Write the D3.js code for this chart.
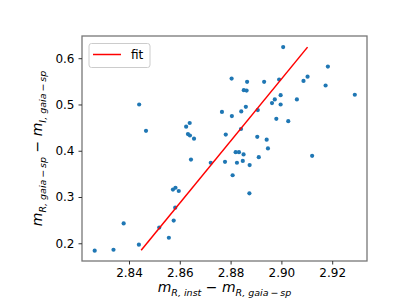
<!DOCTYPE html>
<html>
<head>
<meta charset="utf-8">
<script src="https://cdn.jsdelivr.net/npm/d3@7"></script>
<style>
  body { margin: 0; background: #fff; }
  text { font-family: "DejaVu Sans", sans-serif; }
</style>
</head>
<body>
<div id="container"></div>
<script>
// colour index difference, instrumental vs gaia synthetic photometry
var xVals = [2.8265, 2.8339, 2.8379, 2.8439, 2.8440, 2.8467, 2.8519, 2.8557, 2.8576, 2.8582,
  2.8573, 2.8583, 2.8596, 2.8639, 2.8625, 2.8632, 2.8640, 2.8656, 2.8644, 2.8722,
  2.8766, 2.8781, 2.8778, 2.8804, 2.8805, 2.8808, 2.8820, 2.8833, 2.8825, 2.8851,
  2.8848, 2.8841, 2.8842, 2.8852, 2.8863, 2.8860, 2.8865, 2.8875, 2.8874, 2.8905,
  2.8907, 2.8911, 2.8932, 2.8942, 2.8947, 2.8963, 2.8974, 2.8980, 2.8991, 2.8997,
  2.8997, 2.9007, 2.9027, 2.9061, 2.9087, 2.9103, 2.9121, 2.9174, 2.9183, 2.9289];
var yVals = [0.184, 0.186, 0.243, 0.197, 0.500, 0.443, 0.234, 0.212, 0.249, 0.277,
  0.316, 0.320, 0.313, 0.460, 0.452, 0.436, 0.433, 0.426, 0.381, 0.374,
  0.484, 0.435, 0.376, 0.556, 0.475, 0.347, 0.397, 0.397, 0.374, 0.392,
  0.378, 0.447, 0.485, 0.531, 0.530, 0.495, 0.549, 0.369, 0.308, 0.430,
  0.488, 0.386, 0.549, 0.424, 0.405, 0.503, 0.511, 0.469, 0.554, 0.520,
  0.500, 0.624, 0.464, 0.511, 0.551, 0.560, 0.389, 0.541, 0.582, 0.521];

// fitted line end points
var fitX = [2.8448, 2.9103];
var fitY = [0.185, 0.624];

var xTicks = [2.84, 2.86, 2.88, 2.90, 2.92];
var yTicks = [0.2, 0.3, 0.4, 0.5, 0.6];

let width = 409;
let height = 307;
var margin = {left: 82, right: 42, top: 36, bottom: 46};

var svg = d3.select("#container").append("svg")
  .attr("width", width).attr("height", height);

var x = d3.scaleLinear().domain([2.8215, 2.9337]).range([margin.left, width - margin.right]);
var y = d3.scaleLinear().domain([0.1617, 0.648]).range([height - margin.bottom, margin.top]);

var points = xVals.map(function(d, i) { return {x: d, y: yVals[i]}; });

svg.append("g")
  .selectAll("circle")
  .data(points).enter().append("circle")
  .attr("cx", function(d) { return x(d.x); })
  .attr("cy", function(d) { return y(d.y); })
  .attr("r", 2.1)
  .attr("fill", "#1f77b4");

svg.append("path")
  .datum(fitX.map(function(d, i) { return [d, fitY[i]]; }))
  .attr("d", d3.line().x(function(d) { return x(d[0]); }).y(function(d) { return y(d[1]); }))
  .attr("stroke", "red")
  .attr("stroke-width", 1.5)
  .attr("fill", "none");

// frame
svg.append("rect")
  .attr("x", margin.left).attr("y", margin.top)
  .attr("width", width - margin.left - margin.right)
  .attr("height", height - margin.top - margin.bottom)
  .attr("fill", "none").attr("stroke", "#777").attr("stroke-width", 1.3);

var xAxis = svg.append("g")
  .attr("transform", "translate(0," + (height - margin.bottom) + ")")
  .call(d3.axisBottom(x).tickValues(xTicks).tickFormat(d3.format(".2f")).tickSize(3.5).tickPadding(4));
var yAxis = svg.append("g")
  .attr("transform", "translate(" + margin.left + ",0)")
  .call(d3.axisLeft(y).tickValues(yTicks).tickFormat(d3.format(".1f")).tickSize(3.5).tickPadding(4));

[xAxis, yAxis].forEach(function(a) {
  a.select(".domain").remove();
  a.selectAll("line").attr("stroke", "#333");
  a.selectAll("text").attr("font-size", 12).attr("fill", "#000")
    .style("font-family", "DejaVu Sans");
});

// axis labels with subscripts
function mathLabel(g, parts) {
  var t = g.append("text").attr("text-anchor", "middle").attr("fill", "#000");
  parts.forEach(function(p) {
    var s = t.append("tspan").text(p.t)
      .attr("font-size", p.sub ? 9.5 : 14)
      .attr("font-style", p.it ? "italic" : "normal");
    if (p.sub) s.attr("dy", 3.5);
    if (p.up) s.attr("dy", -3.5);
  });
  return t;
}

var xl = svg.append("g").attr("transform", "translate(" + ((margin.left + width - margin.right) / 2) + ",292)");
mathLabel(xl, [
  {t: "m", it: true}, {t: "R, inst", it: true, sub: true},
  {t: " \u2212 ", up: true}, {t: "m", it: true}, {t: "R, gaia\u2009\u2212\u2009sp", it: true, sub: true}
]);

var yl = svg.append("g").attr("transform", "translate(42," + ((margin.top + height - margin.bottom) / 2) + ") rotate(-90)");
mathLabel(yl, [
  {t: "m", it: true}, {t: "R, gaia\u2009\u2212\u2009sp", it: true, sub: true},
  {t: " \u2212 ", up: true}, {t: "m", it: true}, {t: "I, gaia\u2009\u2212\u2009sp", it: true, sub: true}
]);

// legend
var leg = svg.append("g").attr("transform", "translate(89,43.5)");
leg.append("rect").attr("width", 61).attr("height", 24).attr("rx", 2.5)
  .attr("fill", "#fff").attr("stroke", "#ccc").attr("stroke-width", 1);
leg.append("line").attr("x1", 4).attr("x2", 32).attr("y1", 11).attr("y2", 11)
  .attr("stroke", "red").attr("stroke-width", 1.5);
leg.append("text").attr("x", 42).attr("y", 15.5).attr("font-size", 12).text("fit");
</script>
</body>
</html>
